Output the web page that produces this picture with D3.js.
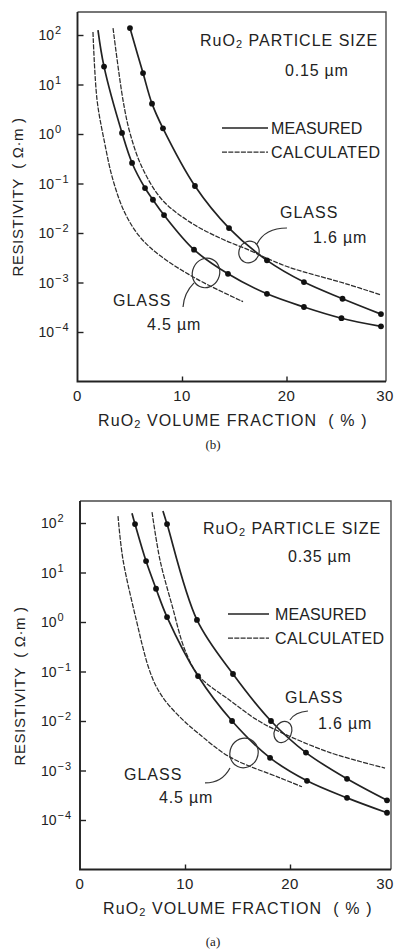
<!DOCTYPE html>
<html>
<head>
<meta charset="utf-8">
<script src="https://cdn.jsdelivr.net/npm/d3@7"></script>
<style>
  html, body { margin: 0; padding: 0; background: #fff; }
  svg { display: block; }
  text { font-family: "Liberation Sans", Arial, Helvetica, sans-serif; fill: #222; }
</style>
</head>
<body>
<svg id="chart" width="396" height="951"></svg>
<script>
// ---- shared axis ticks ----
const yTickExponents = [2, 1, 0, -1, -2, -3, -4];
const xTickValues = [0, 10, 20, 30];

// ---- panel (b): RuO2 particle size 0.15 µm ----
// measured, glass 1.6 µm
const bMeas16X = [5.02, 6.27, 7.13, 8.18, 11.24, 14.50, 18.13, 21.67, 25.36, 29.04];
const bMeas16Y = [138, 17, 4.1, 1.3, 0.089, 0.0126, 0.0028, 0.00102, 0.00047, 0.00023];
const bMeas16Start = null;
// measured, glass 4.5 µm
const bMeas45X = [2.54, 4.26, 5.22, 6.46, 7.22, 8.28, 11.15, 14.40, 18.13, 21.67, 25.26, 29.04];
const bMeas45Y = [23, 1.05, 0.26, 0.081, 0.047, 0.023, 0.0046, 0.0015, 0.00059, 0.00032, 0.00019, 0.00013];
const bMeas45Start = [1.96, 126];
// calculated, glass 1.6 µm
const bCalc16X = [3.40, 4.35, 5.02, 6.17, 8.09, 10.77, 13.64, 16.32, 18.42, 20.33, 25.79, 29.04];
const bCalc16Y = [138, 4.9, 1.05, 0.214, 0.047, 0.0166, 0.0079, 0.0046, 0.0029, 0.0020, 0.00093, 0.00056];
// calculated, glass 4.5 µm
const bCalc45X = [1.48, 1.87, 2.54, 3.40, 4.55, 5.98, 7.89, 11.44, 15.84];
const bCalc45Y = [115, 4.9, 0.76, 0.117, 0.025, 0.0083, 0.0035, 0.00117, 0.00041];

// ---- panel (a): RuO2 particle size 0.35 µm ----
const aMeas16X = [8.29, 11.14, 14.57, 18.19, 21.52, 25.43, 29.24];
const aMeas16Y = [95, 1.1, 0.089, 0.010, 0.0023, 0.00068, 0.00025];
const aMeas16Start = [7.90, 174];
const aMeas45X = [5.24, 6.29, 7.24, 8.29, 11.24, 14.48, 18.10, 21.62, 25.43, 29.24];
const aMeas45Y = [95, 17, 4.7, 1.26, 0.081, 0.010, 0.0018, 0.00062, 0.00028, 0.00014];
const aMeas45Start = [4.95, 158];
const aCalc16X = [6.86, 7.62, 8.76, 10.0, 11.33, 14.29, 16.86, 19.05, 23.81, 29.05];
const aCalc16Y = [166, 17.8, 2.19, 0.27, 0.081, 0.026, 0.0105, 0.006, 0.0023, 0.00112];
const aCalc45X = [3.62, 4.10, 5.52, 6.00, 6.48, 7.14, 8.00, 9.52, 11.24, 14.29, 19.05, 21.14];
const aCalc45Y = [138, 17.8, 0.79, 0.30, 0.129, 0.056, 0.0277, 0.012, 0.0057, 0.00186, 0.00071, 0.00047];

const svg = d3.select("#chart");
const ink = "#222";

function zip(xs, ys) { return xs.map((v, i) => [v, ys[i]]); }

const panels = [
  {
    top: 12, left: 77.5, x30: 391, frameRight: 386, y100: 35,
    size: "0.15 µm", caption: "(b)", captionY: 449,
    meas16: zip(bMeas16X, bMeas16Y), meas16Start: bMeas16Start,
    meas45: zip(bMeas45X, bMeas45Y), meas45Start: bMeas45Start,
    calc16: zip(bCalc16X, bCalc16Y), calc45: zip(bCalc45X, bCalc45Y),
    ring16: [16.41, 0.00413, 10, 11], ring45: [12.30, 0.00156, 13.5, 15],
    lead16: "M8,-8 Q16,-24 38,-24", lead45: "M-12,10 Q-22,20 -23,34",
    text: { title: [200, 34], size: [285, 64], legend: [222, 268, 271, 116, 140],
            glass16: [280, 206], um16: [313, 231], glass45: [113, 294], um45: [147, 318],
            xTitle: 98, caption: 213 }
  },
  {
    top: 501, left: 80, x30: 395, frameRight: 391, y100: 523,
    size: "0.35 µm", caption: "(a)", captionY: 946,
    meas16: zip(aMeas16X, aMeas16Y), meas16Start: aMeas16Start,
    meas45: zip(aMeas45X, aMeas45Y), meas45Start: aMeas45Start,
    calc16: zip(aCalc16X, aCalc16Y), calc45: zip(aCalc45X, aCalc45Y),
    ring16: [19.33, 0.006, 8.5, 11], ring45: [15.62, 0.00226, 14, 15],
    lead16: "M7,-12 Q12,-20 25,-21", lead45: "M-14,15 Q-22,30 -39,30",
    text: { title: [203, 32.5], size: [288, 60.5], legend: [228, 269, 275, 113, 137],
            glass16: [285, 201.5], um16: [318, 227.5], glass45: [124, 278.5], um45: [159, 301.5],
            xTitle: 103, caption: 213 }
  }
];

function ruo2(sel, rest) {
  sel.append("tspan").text("RuO");
  sel.append("tspan").attr("font-size", "11px").attr("dy", 2).text("2");
  sel.append("tspan").attr("dy", -2).text(rest);
}

function drawPanel(p) {
  const g = svg.append("g");
  const decade = 49.5;
  const x = d3.scaleLinear().domain([0, 30]).range([p.left, p.x30]);
  const y = d3.scaleLog().domain([1e-5, 1e2]).range([p.y100 + 7 * decade, p.y100]);
  const yBottom = y(1e-5);
  const t = p.text;
  const ty = v => p.top + v;

  // frame: heavy left/bottom axes, lighter top/right edges
  g.append("path")
    .attr("d", `M${p.left},${p.top}H${p.frameRight}V${yBottom}`)
    .attr("fill", "none").attr("stroke", "#4a4a4a").attr("stroke-width", 1.4);
  g.append("path")
    .attr("d", `M${p.left},${p.top}V${yBottom}H${p.frameRight}`)
    .attr("fill", "none").attr("stroke", ink).attr("stroke-width", 1.9);

  // y axis: inward decade ticks and 10^n labels
  const yAxis = d3.axisRight(y)
    .tickValues(yTickExponents.map(e => Math.pow(10, e)))
    .tickSize(6).tickFormat("");
  const ya = g.append("g").attr("transform", `translate(${p.left},0)`).call(yAxis);
  ya.select(".domain").remove();
  ya.selectAll(".tick line").attr("stroke", ink).attr("stroke-width", 1.4);
  yTickExponents.forEach(e => {
    const lbl = g.append("text").attr("x", p.left - 39).attr("y", y(Math.pow(10, e)) + 5)
      .attr("font-size", "14px");
    lbl.append("tspan").text("10");
    lbl.append("tspan").attr("font-size", "11px").attr("dy", -6).attr("dx", 1)
      .attr("letter-spacing", "1px")
      .text(e < 0 ? "\u2212" + Math.abs(e) : String(e));
  });

  // x axis: inward ticks at 10 and 20, labels at every 10
  const xAxis = d3.axisTop(x).tickValues([10, 20]).tickSize(5).tickFormat("");
  const xa = g.append("g").attr("transform", `translate(0,${yBottom})`).call(xAxis);
  xa.select(".domain").remove();
  xa.selectAll(".tick line").attr("stroke", ink).attr("stroke-width", 1.4);
  g.selectAll(".xlabel").data(xTickValues).enter().append("text")
    .attr("x", d => Math.min(x(d), 385)).attr("y", yBottom + 19)
    .attr("text-anchor", "middle").attr("font-size", "15px").attr("letter-spacing", "0.5px")
    .text(d => d);

  // axis titles
  const xt = g.append("text").attr("x", t.xTitle).attr("y", yBottom + 44.5)
    .attr("font-size", "16px").attr("letter-spacing", "1.1px");
  ruo2(xt, " VOLUME FRACTION\u00a0 ( % )");
  g.append("text")
    .attr("transform", `translate(${p.left - 55},${ty(185)}) rotate(-90)`)
    .attr("text-anchor", "middle").attr("font-size", "15px").attr("letter-spacing", "0.6px")
    .text("RESISTIVITY\u00a0 ( \u03a9\u00b7m )");
  g.append("text").attr("x", t.caption).attr("y", p.captionY)
    .attr("text-anchor", "middle").attr("font-size", "13px")
    .style("font-family", "'Liberation Serif', 'DejaVu Serif', serif")
    .text(p.caption);

  // curves
  const line = d3.line().x(d => x(d[0])).y(d => y(d[1])).curve(d3.curveCatmullRom.alpha(0.5));
  const calcStyle = s => s.attr("fill", "none").attr("stroke", "#2c2c2c")
    .attr("stroke-width", 1.25).attr("stroke-dasharray", "5,1.3");
  const measStyle = s => s.attr("fill", "none").attr("stroke", ink).attr("stroke-width", 1.7);

  g.append("path").datum(p.calc16).attr("d", line).call(calcStyle);
  g.append("path").datum(p.calc45).attr("d", line).call(calcStyle);
  [[p.meas16, p.meas16Start], [p.meas45, p.meas45Start]].forEach(([pts, start]) => {
    const full = start ? [start].concat(pts) : pts;
    g.append("path").datum(full).attr("d", line).call(measStyle);
    g.selectAll(null).data(pts).enter().append("circle")
      .attr("cx", d => x(d[0])).attr("cy", d => y(d[1])).attr("r", 2.9)
      .attr("fill", "#111");
  });

  // rings marking each glass pair, with leader strokes
  [[p.ring16, p.lead16], [p.ring45, p.lead45]].forEach(([r, lead]) => {
    const cg = g.append("g").attr("transform", `translate(${x(r[0])},${y(r[1])})`);
    cg.append("ellipse").attr("rx", r[2]).attr("ry", r[3])
      .attr("transform", "rotate(25)")
      .attr("fill", "none").attr("stroke", "#333").attr("stroke-width", 1.2);
    cg.append("path").attr("d", lead)
      .attr("fill", "none").attr("stroke", "#333").attr("stroke-width", 1.2);
  });

  // annotation text
  const label = (xx, yy, s, ls) => g.append("text").attr("x", xx).attr("y", ty(yy))
    .attr("font-size", "16px").attr("letter-spacing", ls || "0.4px").text(s);
  const ttl = g.append("text").attr("x", t.title[0]).attr("y", ty(t.title[1]))
    .attr("font-size", "16px").attr("letter-spacing", "1px");
  ruo2(ttl, " PARTICLE SIZE");
  label(t.size[0], t.size[1], p.size, "0.8px");
  label(t.glass16[0], t.glass16[1], "GLASS", "1px");
  label(t.um16[0], t.um16[1], "1.6 µm", "0.8px");
  label(t.glass45[0], t.glass45[1], "GLASS", "1px");
  label(t.um45[0], t.um45[1], "4.5 µm", "0.8px");

  // legend
  const [lx0, lx1, tx, ly1, ly2] = t.legend;
  g.append("line").attr("x1", lx0).attr("x2", lx1).attr("y1", ty(ly1)).attr("y2", ty(ly1)).call(measStyle);
  g.append("line").attr("x1", lx0).attr("x2", lx1).attr("y1", ty(ly2)).attr("y2", ty(ly2)).call(calcStyle);
  label(tx, ly1 + 5.5, "MEASURED", "0.1px");
  label(tx, ly2 + 5.5, "CALCULATED", "0.5px");
}

panels.forEach(drawPanel);
</script>
</body>
</html>
